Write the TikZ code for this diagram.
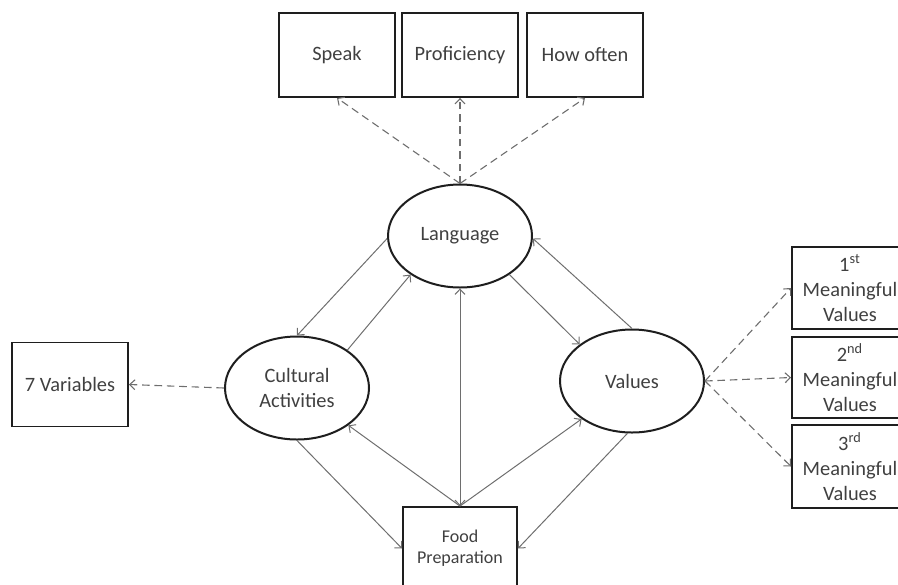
\documentclass[tikz,border=0pt]{standalone}
\usepackage{fontspec}
\setmainfont{Carlito}
\usetikzlibrary{shapes.geometric,arrows.meta}
\definecolor{inkline}{HTML}{1E1E1E}
\definecolor{linkgray}{HTML}{6E6E6E}
\definecolor{txtgray}{HTML}{404040}
\begin{document}
\begin{tikzpicture}[x=0.5pt,y=-0.5pt,
  >={Straight Barb[length=2.6pt,width=5pt]},
  every node/.style={text=txtgray,font=\fontsize{10.2}{12.5}\selectfont,align=center,inner sep=0pt},
  itembox/.style={draw=inkline,line width=0.95pt,fill=white,minimum width=58pt,minimum height=42pt},
  concept/.style={draw=inkline,line width=1pt,fill=white,ellipse,minimum width=72pt,minimum height=51.5pt},
  link/.style={draw=linkgray,line width=0.5pt},
  measure/.style={draw=linkgray,line width=0.55pt,dash pattern=on 3.8pt off 2.4pt}]
\useasboundingbox (0,0) rectangle (898,584);
\clip (0,0) rectangle (898,584);

% latent constructs
\node[concept] (lang) at (460,236) {Language};
\node[concept] (cult) at (297,388) {Cultural\\Activities};
\node[concept] (vals) at (632,381) {Values};

% indicator boxes
\node[itembox] (speak) at (337,55) {Speak};
\node[itembox] (prof)  at (460,55) {Proficiency};
\node[itembox] (often) at (585,55) {How often};
\node[itembox] (vars)  at (70,384.5) {7 Variables};
\node[itembox,minimum width=57pt,minimum height=41.5pt,
      font=\fontsize{9}{10.5}\selectfont] (food) at (460,548.5) {Food\\Preparation};
\node[itembox,minimum height=41pt] (mv1) at (850,288) {1\textsuperscript{st}\\Meaningful\\Values};
\node[itembox,minimum height=40.5pt] (mv2) at (850,377.5) {2\textsuperscript{nd}\\Meaningful\\Values};
\node[itembox,minimum height=41.5pt] (mv3) at (850,466.5) {3\textsuperscript{rd}\\Meaningful\\Values};

% language indicators
\draw[measure,->] (lang.north) -- (speak.south);
\draw[measure,->] (lang.north) -- (prof.south);
\draw[measure,->] (lang.north) -- (often.south);

% cultural activity indicators
\draw[measure,->] (cult.west) -- (vars.east);

% value indicators
\draw[measure,->] (vals.east) -- (mv1.west);
\draw[measure,->] (vals.east) -- (mv2.west);
\draw[measure,->] (vals.east) -- (mv3.west);

% paths between constructs
\draw[link,->] (lang.182) -- (cult.90);
\draw[link,->] (cult.37) -- (lang.218);
\draw[link,->] (lang.322) -- (vals.145);
\draw[link,->] (vals.90) -- (lang.358);
\draw[link,<->] (lang.south) -- (food.north);
\draw[link,->] (food.north) -- (cult.324);
\draw[link,->] (food.north) -- (vals.217);
\draw[link,->] (cult.270) -- (food.west);
\draw[link,->] (vals.265) -- (food.east);
\end{tikzpicture}
\end{document}
